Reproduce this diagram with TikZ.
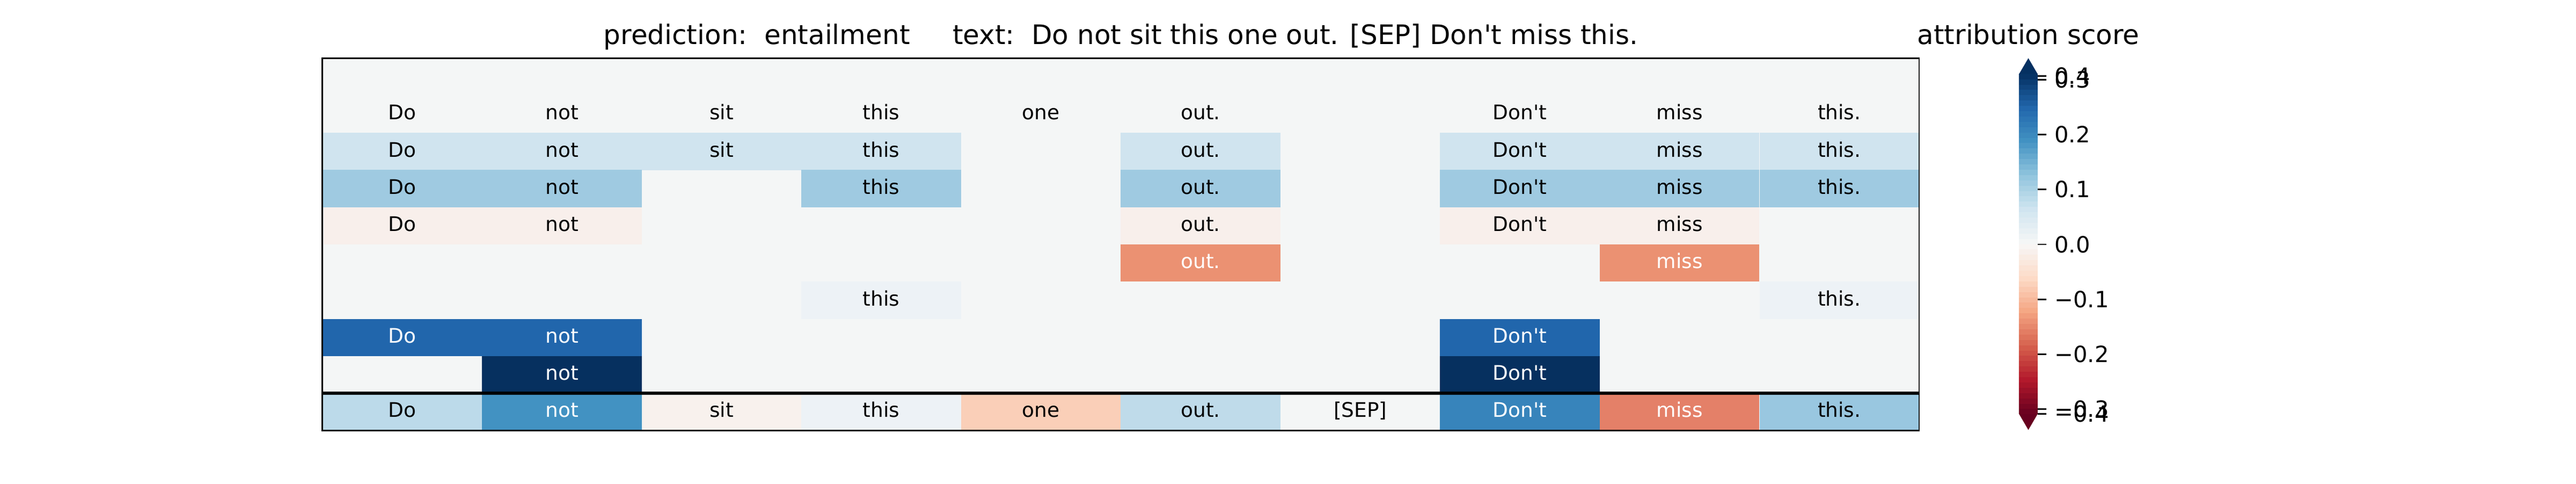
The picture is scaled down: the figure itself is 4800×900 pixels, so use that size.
\documentclass[tikz,border=0pt]{standalone}
\usepackage{fontspec}
\newfontfamily\mplfont{DejaVu Sans}

\definecolor{cellbg}{HTML}{F4F6F6}
\definecolor{blA}{HTML}{D0E4EF}
\definecolor{blB}{HTML}{9FCAE1}
\definecolor{pkA}{HTML}{F8EFEB}
\definecolor{orA}{HTML}{EB9172}
\definecolor{blC}{HTML}{EDF2F6}
\definecolor{blD}{HTML}{2166AC}
\definecolor{blE}{HTML}{06305F}
\definecolor{bt0}{HTML}{BCDAEA}
\definecolor{bt1}{HTML}{4292C2}
\definecolor{bt2}{HTML}{F8F1ED}
\definecolor{bt3}{HTML}{EDF2F6}
\definecolor{bt4}{HTML}{FACFB8}
\definecolor{bt5}{HTML}{BFDBEA}
\definecolor{bt7}{HTML}{3784BB}
\definecolor{bt8}{HTML}{E48068}
\definecolor{bt9}{HTML}{99C7E0}
\definecolor{rd0}{HTML}{67001F}
\definecolor{rd1}{HTML}{B2182B}
\definecolor{rd2}{HTML}{D6604D}
\definecolor{rd3}{HTML}{F4A582}
\definecolor{rd4}{HTML}{FDDBC7}
\definecolor{rd5}{HTML}{F7F7F7}
\definecolor{rd6}{HTML}{D1E5F0}
\definecolor{rd7}{HTML}{92C5DE}
\definecolor{rd8}{HTML}{4393C3}
\definecolor{rd9}{HTML}{2166AC}
\definecolor{rd10}{HTML}{053061}

\newcommand\tokword[1]{\ifcase#1 Do\or not\or sit\or this\or one\or out.\or [SEP]\or Don't\or miss\or this.\fi}

\begin{document}
\begin{tikzpicture}[x=0.0084667cm,y=-0.0084667cm,
    cell/.style={minimum width=71.68pt,minimum height=16.69pt,inner sep=0pt,outer sep=0pt,
      text height=6.86pt,text depth=1.9pt,font={\mplfont\fontsize{9.03}{11}\selectfont}},
    heading/.style={anchor=base,inner sep=0pt,font={\mplfont\fontsize{12.05}{14}\selectfont}},
    cblabel/.style={anchor=west,inner sep=0pt,font={\mplfont\fontsize{10.04}{12}\selectfont}},
    cbtick/.style={line width=0.65pt}]
  \useasboundingbox (0,0) rectangle (4800,900);
  \coordinate (axnw) at (600.7,108.7);
  \coordinate (axse) at (3576,801.3);
  \fill[cellbg] (axnw) rectangle (axse);
  \foreach \r/\cols/\clr/\txt in {1/{0,1,2,3,4,5,7,8,9}/cellbg/black,
      2/{0,1,2,3,5,7,8,9}/blA/black, 3/{0,1,3,5,7,8,9}/blB/black,
      4/{0,1,5,7,8}/pkA/black, 5/{5,8}/orA/white, 6/{3,9}/blC/black,
      7/{0,1,7}/blD/white, 8/{1,7}/blE/white}
    \foreach \cc in \cols
      \node[cell,fill=\clr,text=\txt] (r\r c\cc) at ({749.47+297.53*\cc},{143.33+69.26*\r}) {\tokword{\cc}};
  \foreach \cc/\clr/\txt in {0/bt0/black,1/bt1/white,2/bt2/black,3/bt3/black,4/bt4/black,
      5/bt5/black,6/cellbg/black,7/bt7/white,8/bt8/white,9/bt9/black}
    \node[cell,fill=\clr,text=\txt] (r9c\cc) at ({749.47+297.53*\cc},{143.33+69.26*9}) {\tokword{\cc}};
  \draw[line width=0.65pt] (axnw) rectangle (axse);
  \draw[line width=1.45pt] (r9c0.north west) -- (r9c9.north east);

  \node[heading] (title) at (2088.4,82.7) {prediction:\ \ entailment\ \ \ \ \ text:\ \ Do not sit this one out. [SEP] Don't miss this.};
  \node[heading] (cbtitle) at (3779.5,82.7) {attribution score};

  \foreach \k in {0,...,63} {
    \pgfmathsetmacro\tpos{(\k+0.5)/6.4}
    \pgfmathtruncatemacro\seg{min(int(\tpos),9)}
    \pgfmathtruncatemacro\pct{round(100*(\tpos-\seg))}
    \pgfmathtruncatemacro\nxt{\seg+1}
    \fill[rd\nxt!\pct!rd\seg] (3762.3,{771.3-9.9*\k}) rectangle (3796.7,{770.7-9.9*(\k+1)});
  }
  \fill[rd10] (3762.3,137.6) -- (3779.5,108.3) -- (3796.7,137.6) -- cycle;
  \fill[rd0] (3762.3,770.8) -- (3779.5,800.3) -- (3796.7,770.8) -- cycle;
  \foreach \yy/\lab [count=\i] in {141.7/0.4,148.4/0.3,250.6/0.2,352.8/0.1,455/0.0,
      557.2/−0.1,659.4/−0.2,761.6/−0.3,770.7/−0.4} {
    \coordinate (tk\i) at (3796.7,\yy);
    \draw[cbtick] (tk\i) -- ++(16.6,0);
    \node[cblabel] (cbl\i) at (3827.5,\yy) {\lab};
  }
\end{tikzpicture}
\end{document}
